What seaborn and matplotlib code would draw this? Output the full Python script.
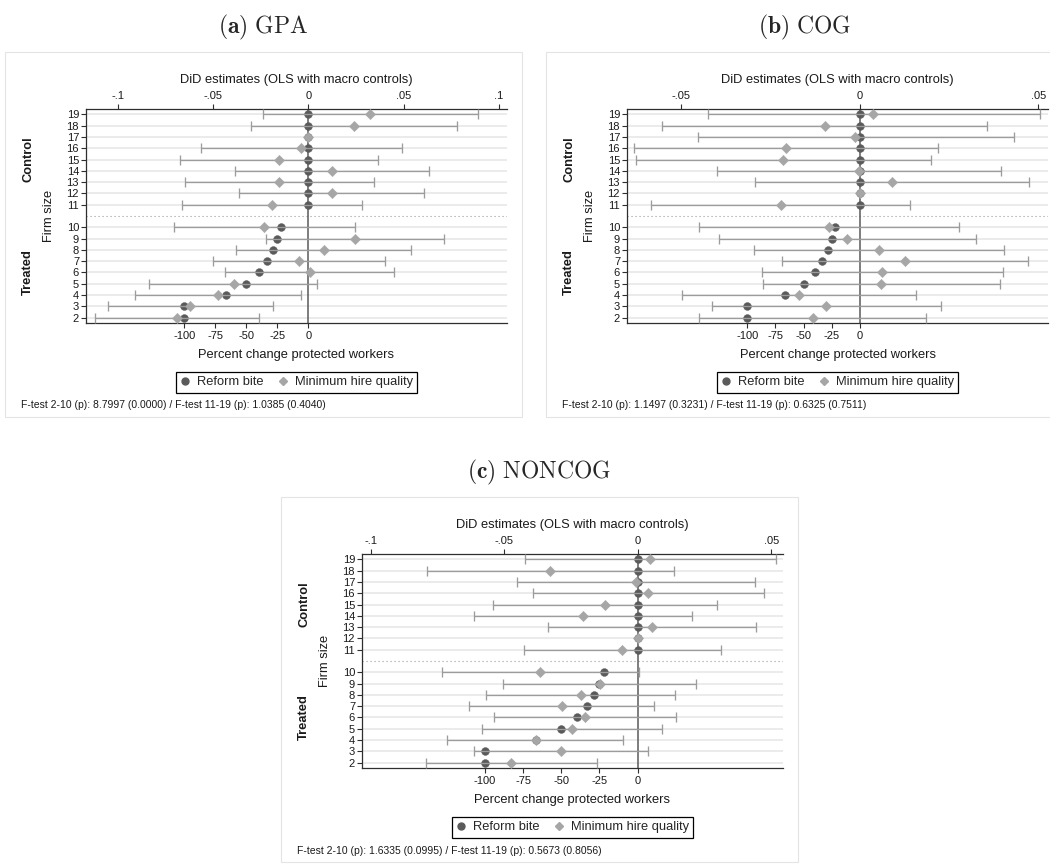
import matplotlib
matplotlib.use("Agg")
import numpy as np
import pandas as pd
import matplotlib.pyplot as plt
from matplotlib.lines import Line2D
from matplotlib.patches import Rectangle
import seaborn as sns

# ---- data -------------------------------------------------------------
firm_size = [2, 3, 4, 5, 6, 7, 8, 9, 10, 11, 12, 13, 14, 15, 16, 17, 18, 19]

# Percent change in protected workers implied by the reform (bottom axis)
reform_bite = [-100.0, -100.0, -66.7, -50.0, -40.0, -33.3, -28.6, -25.0, -22.2,
               0.0, 0.0, 0.0, 0.0, 0.0, 0.0, 0.0, 0.0, 0.0]

# DiD estimates of minimum hire quality with 95% CI (top axis)
gpa_est = [-0.0688, -0.0618, -0.0476, -0.0392, 0.0007, -0.0051, 0.0080, 0.0244, -0.0230,
           -0.0190, 0.0124, -0.0152, 0.0122, -0.0153, -0.0037, 0.0, 0.0237, 0.0322]
gpa_lo = [-0.1117, -0.1049, -0.0911, -0.0834, -0.0439, -0.0502, -0.0378, -0.0223, -0.0706,
          -0.0664, -0.0362, -0.0646, -0.0387, -0.0671, -0.0561, np.nan, -0.0303, -0.0239]
gpa_hi = [-0.0261, -0.0186, -0.0038, 0.0045, 0.0451, 0.0401, 0.0538, 0.0709, 0.0246,
          0.0284, 0.0605, 0.0343, 0.0631, 0.0364, 0.0493, np.nan, 0.0779, 0.0889]

cog_est = [-0.0132, -0.0094, -0.0170, 0.0060, 0.0063, 0.0126, 0.0054, -0.0035, -0.0085,
           -0.0221, 0.0, 0.0089, -0.0002, -0.0215, -0.0206, -0.0013, -0.0098, 0.0038]
cog_lo = [-0.0449, -0.0415, -0.0497, -0.0272, -0.0275, -0.0217, -0.0295, -0.0393, -0.0449,
          -0.0584, np.nan, -0.0294, -0.0401, -0.0628, -0.0631, -0.0453, -0.0553, -0.0425]
cog_hi = [0.0185, 0.0228, 0.0157, 0.0393, 0.0402, 0.0470, 0.0404, 0.0324, 0.0279,
          0.0141, np.nan, 0.0473, 0.0396, 0.0198, 0.0218, 0.0432, 0.0357, 0.0505]

noncog_est = [-0.0473, -0.0286, -0.0383, -0.0246, -0.0198, -0.0285, -0.0214, -0.0143, -0.0366,
              -0.0059, 0.0, 0.0054, -0.0204, -0.0123, 0.0040, -0.0006, -0.0329, 0.0044]
noncog_lo = [-0.0793, -0.0614, -0.0716, -0.0584, -0.0538, -0.0631, -0.0569, -0.0504, -0.0735,
             -0.0428, np.nan, -0.0336, -0.0613, -0.0543, -0.0393, -0.0451, -0.0789, -0.0424]
noncog_hi = [-0.0151, 0.0039, -0.0055, 0.0089, 0.0145, 0.0061, 0.0141, 0.0218, 0.0003,
             0.0313, np.nan, 0.0444, 0.0203, 0.0298, 0.0473, 0.0440, 0.0134, 0.0516]

f_test_text = {
    "GPA": "F-test 2-10 (p): 8.7997 (0.0000) / F-test 11-19 (p): 1.0385 (0.4040)",
    "COG": "F-test 2-10 (p): 1.1497 (0.3231) / F-test 11-19 (p): 0.6325 (0.7511)",
    "NONCOG": "F-test 2-10 (p): 1.6335 (0.0995) / F-test 11-19 (p): 0.5673 (0.8056)",
}

did_ticks = [-0.1, -0.05, 0.0, 0.05, 0.1]
did_tick_labels = ["-.1", "-.05", "0", ".05", ".1"]
pct_ticks = [-100, -75, -50, -25, 0]
pct_tick_labels = ["-100", "-75", "-50", "-25", "0"]

# ---- style ------------------------------------------------------------
sns.set_theme(style="white")
plt.rcParams["font.family"] = ["Liberation Sans", "DejaVu Sans"]
plt.rcParams["mathtext.fontset"] = "cm"

DARK = "#5a5a5a"
LIGHT = "#a6a6a6"
CI_COLOR = "#9c9c9c"
GRID = "#e9e9e9"
SPINE = "#2e2e2e"
FRAME = "#e4e4e4"
TEXT = "#1a1a1a"
TICK_FS = 8

W, H = 1050, 867
fig = plt.figure(figsize=(W / 100, H / 100), dpi=100)
fig.patch.set_facecolor("white")


def fig_rect(left, top, width, height):
    return [left / W, 1 - (top + height) / H, width / W, height / H]


def fig_xy(x, y):
    return x / W, 1 - y / H


# Treated sizes 2-10 and control sizes 11-19 are separated by one empty row
row_pos = [s - 2 + (1 if s >= 11 else 0) for s in firm_size]
sep_pos = 9

panels = [
    dict(tag="(a)", name="GPA", est=gpa_est, lo=gpa_lo, hi=gpa_hi,
         left=86, top=109, did_lim=(-0.1166, 0.1042), pct_lim=(-179.3, 160.2),
         frame=(5, 52, 517, 365)),
    dict(tag="(b)", name="COG", est=cog_est, lo=cog_lo, hi=cog_hi,
         left=627, top=109, did_lim=(-0.0652, 0.0527), pct_lim=(-207.2, 167.7),
         frame=(546, 52, 517, 365)),
    dict(tag="(c)", name="NONCOG", est=noncog_est, lo=noncog_lo, hi=noncog_hi,
         left=362, top=554, did_lim=(-0.1033, 0.0544), pct_lim=(-180.5, 95.2),
         frame=(281, 497, 517, 365)),
]
AX_W, AX_H = 421, 214

for p in panels:
    fx, fy, fw, fh = p["frame"]
    fig.add_artist(Rectangle((fx / W, 1 - (fy + fh) / H), fw / W, fh / H,
                             transform=fig.transFigure, fill=False,
                             edgecolor=FRAME, lw=0.8, zorder=0))
    tx, ty = fig_xy(fx + fw / 2, fy - 25)
    fig.text(tx, ty, r"$\mathbf{" + p["tag"] + r"}\ \mathrm{" + p["name"] + "}$",
             ha="center", va="center", fontsize=17)

    df = pd.DataFrame({"size": firm_size, "pos": row_pos, "bite": reform_bite,
                       "est": p["est"], "lo": p["lo"], "hi": p["hi"]})

    ax = fig.add_axes(fig_rect(p["left"], p["top"], AX_W, AX_H))
    ax.set_facecolor("white")
    for y in row_pos:
        ax.axhline(y, color=GRID, lw=1.3, zorder=0)
    ax.axhline(sep_pos, color="#9a9a9a", lw=0.8, ls=(0, (1, 2.6)), zorder=0.5)
    ax.axvline(0, color="#5a5a5a", lw=1.1, zorder=1)

    sns.scatterplot(data=df, x="bite", y="pos", ax=ax, marker="o", s=32,
                    color=DARK, edgecolor=DARK, linewidth=0.3, zorder=3, legend=False)
    ax.set_xticks(pct_ticks)
    ax.set_xticklabels(pct_tick_labels)
    ax.set_yticks(row_pos)
    ax.set_yticklabels([str(s) for s in firm_size])
    ax.set_xlim(p["pct_lim"])
    ax.set_ylim(-0.47, 18.47)
    ax.tick_params(axis="x", bottom=True, top=False, direction="out", length=3.5,
                   width=0.8, color=SPINE, labelsize=TICK_FS, pad=2.2, labelcolor=TEXT)
    ax.tick_params(axis="y", left=True, direction="out", length=3.5, width=0.8,
                   color=SPINE, labelsize=TICK_FS, pad=1.5, labelcolor=TEXT)
    ax.set_xlabel("Percent change protected workers", fontsize=9.3, labelpad=5.5, color=TEXT)
    ax.set_ylabel("Firm size", fontsize=9.3, labelpad=8, color=TEXT)
    for side in ("left", "bottom", "top"):
        ax.spines[side].set_visible(True)
        ax.spines[side].set_color(SPINE)
        ax.spines[side].set_linewidth(0.9)
    ax.spines["right"].set_visible(False)

    axt = ax.twiny()
    ci = df.dropna(subset=["lo", "hi"])
    axt.errorbar(ci["est"], ci["pos"], xerr=[ci["est"] - ci["lo"], ci["hi"] - ci["est"]],
                 fmt="none", ecolor=CI_COLOR, elinewidth=0.95, capsize=3.4,
                 capthick=0.95, zorder=2)
    sns.scatterplot(data=df, x="est", y="pos", ax=axt, marker="D", s=28,
                    color=LIGHT, edgecolor=LIGHT, linewidth=0.3, zorder=4, legend=False)
    lo_lim, hi_lim = p["did_lim"]
    shown = [(t, l) for t, l in zip(did_ticks, did_tick_labels) if lo_lim <= t <= hi_lim]
    axt.set_xticks([t for t, _ in shown])
    axt.set_xticklabels([l for _, l in shown])
    axt.set_xlim(p["did_lim"])
    axt.set_ylim(-0.47, 18.47)
    axt.tick_params(axis="x", top=True, bottom=False, labeltop=True, labelbottom=False,
                    direction="out", length=3.5, width=0.8, color=SPINE,
                    labelsize=TICK_FS, pad=2.2, labelcolor=TEXT)
    axt.xaxis.set_label_position("top")
    axt.set_xlabel("DiD estimates (OLS with macro controls)", fontsize=9.3,
                   labelpad=5.5, color=TEXT)
    axt.set_ylabel("")
    for s in axt.spines.values():
        s.set_visible(False)

    group_x = -58 / AX_W
    ax.text(group_x, 14, "Control", transform=ax.get_yaxis_transform(),
            rotation=90, ha="center", va="center", fontsize=9.3, fontweight="bold",
            color=TEXT)
    ax.text(group_x, 4, "Treated", transform=ax.get_yaxis_transform(),
            rotation=90, ha="center", va="center", fontsize=9.3, fontweight="bold",
            color=TEXT)

    handles = [
        Line2D([], [], marker="o", ls="none", color=DARK, markersize=5),
        Line2D([], [], marker="D", ls="none", color=LIGHT, markersize=4.3),
    ]
    leg = ax.legend(handles, ["Reform bite", "Minimum hire quality"],
                    loc="upper center", bbox_to_anchor=(0.5, -48.7 / AX_H), ncol=2,
                    frameon=True, fancybox=False, fontsize=9.3, handlelength=0.8,
                    handletextpad=0.5, columnspacing=1.1, borderpad=0.35,
                    borderaxespad=0)
    leg.get_frame().set_edgecolor("black")
    leg.get_frame().set_linewidth(0.9)
    leg.get_frame().set_alpha(1)

    fx_t, fy_t = fig_xy(p["left"] - 65, p["top"] + AX_H + 82.5)
    fig.text(fx_t, fy_t, f_test_text[p["name"]], ha="left", va="center",
             fontsize=7.5, color=TEXT)

fig.savefig("out.png", dpi=100, facecolor="white")
